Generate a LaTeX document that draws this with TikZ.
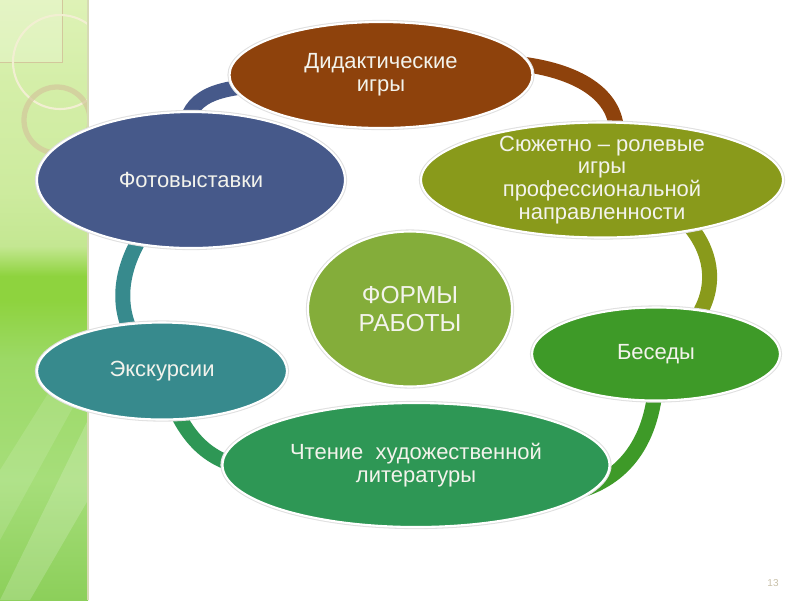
\documentclass[tikz,border=0pt]{standalone}
\usepackage{fontspec}
\setmainfont{Liberation Sans}
\usepackage{xcolor}
\usepackage{tikz}
\usetikzlibrary{shapes.geometric}
\definecolor{didbrown}{HTML}{8E420C}
\definecolor{sjuolive}{HTML}{899A1B}
\definecolor{fotoblue}{HTML}{46598A}
\definecolor{formgreen}{HTML}{84AD3A}
\definecolor{eksteal}{HTML}{378A8D}
\definecolor{besgreen}{HTML}{3E9A28}
\definecolor{chtgreen}{HTML}{2E9755}
\definecolor{txtwhite}{HTML}{F3F3EC}
\definecolor{numgray}{HTML}{C8C0A8}
\definecolor{ringcream}{HTML}{F2EFD2}
\definecolor{ringbeige}{HTML}{D3C79C}
\definecolor{stripedge}{HTML}{D6DAB4}
\definecolor{stripA}{HTML}{8CCF5A}
\definecolor{stripB}{HTML}{A6DE7A}
\definecolor{stripC}{HTML}{9CD966}
\definecolor{stripD}{HTML}{8ED33E}
\definecolor{stripE}{HTML}{C4E792}
\definecolor{stripF}{HTML}{CDEB9E}
\definecolor{stripG}{HTML}{D4EEA8}
\definecolor{stripH}{HTML}{DEF2B6}
\pgfdeclareverticalshading{stripgreen}{100bp}{color(0bp)=(stripA); color(25bp)=(stripA); color(35bp)=(stripB); color(45bp)=(stripC); color(50bp)=(stripD); color(52bp)=(stripD); color(54.5bp)=(stripE); color(59bp)=(stripF); color(68bp)=(stripG); color(75bp)=(stripH); color(100bp)=(stripH)}
\pgfdeclarelayer{bg}
\pgfsetlayers{bg,main}
\tikzset{form/.style={ellipse,draw=white,line width=1.2pt,preaction={draw=black!12,line width=2.4pt},inner sep=0pt,align=center,text=txtwhite,font=\fontsize{12.5}{13}\selectfont},
  ring/.style={line width=0.3cm}}

\begin{document}
\begin{tikzpicture}[x=0.02cm,y=-0.02cm]
\useasboundingbox (0,0) rectangle (800,600);
% left strip
\shade[shading=stripgreen] (0,0) rectangle (88,600);
\begin{scope}
\clip (0,0) rectangle (88,600);
\fill[white,opacity=.18] (0,600) -- (88,420) -- (88,500) -- (30,600) -- cycle;
\fill[white,opacity=.12] (0,470) -- (88,330) -- (88,380) -- (0,540) -- cycle;
\draw[ringbeige,fill=white,fill opacity=.2] (-1,-1) rectangle (62,62);
\draw[ringcream,line width=1.2pt] (60,62) circle (47);
\draw[ringbeige,line width=3pt,opacity=.7] (57,120) circle (33);
\end{scope}
\draw[stripedge,line width=1pt] (88,0) -- (88,600);
% nodes
\node[form,fill=formgreen,minimum width=4.08cm,minimum height=3.1cm,font=\fontsize{14}{16}\selectfont] (forms) at (410,309) {ФОРМЫ\\РАБОТЫ};
\node[form,fill=didbrown,minimum width=6.06cm,minimum height=2.12cm] (did) at (381,75) {Дидактические\\игры};
\node[form,fill=sjuolive,minimum width=7.24cm,minimum height=2.3cm,inner ysep=-4pt] (sju) at (602,180) {Сюжетно – ролевые\\игры\\профессиональной\\направленности};
\node[form,fill=besgreen,minimum width=4.96cm,minimum height=1.86cm] (bes) at (656,354) {Беседы};
\node[form,fill=chtgreen,minimum width=7.74cm,minimum height=2.48cm] (cht) at (416,465) {Чтение\ \ художественной\\литературы};
\node[form,fill=eksteal,minimum width=5cm,minimum height=1.94cm] (eks) at (162,371) {Экскурсии};
\node[form,fill=fotoblue,minimum width=6.16cm,minimum height=2.72cm] (foto) at (191,180) {Фотовыставки};
% ring
\begin{pgfonlayer}{bg}
\draw[ring,fotoblue] (foto.center) to[out=105,in=190,looseness=1.5] (did.center);
\draw[ring,didbrown] (did.center) to[out=15,in=60,looseness=1.35] (sju.center);
\draw[ring,sjuolive] (sju.center) to[out=-10,in=30,looseness=1.55] (bes.center);
\draw[ring,besgreen] (bes.center) to[out=-87,in=-25,looseness=1.42] (cht.center);
\draw[ring,chtgreen] (cht.center) to[out=180,in=-75,looseness=1.32] (eks.center);
\draw[ring,eksteal] (eks.center) to[out=140,in=-140,looseness=1.19] (foto.center);
\end{pgfonlayer}
\node[font=\fontsize{5.7}{6}\selectfont,text=numgray] (pg) at (773,583) {13};
\end{tikzpicture}
\end{document}
